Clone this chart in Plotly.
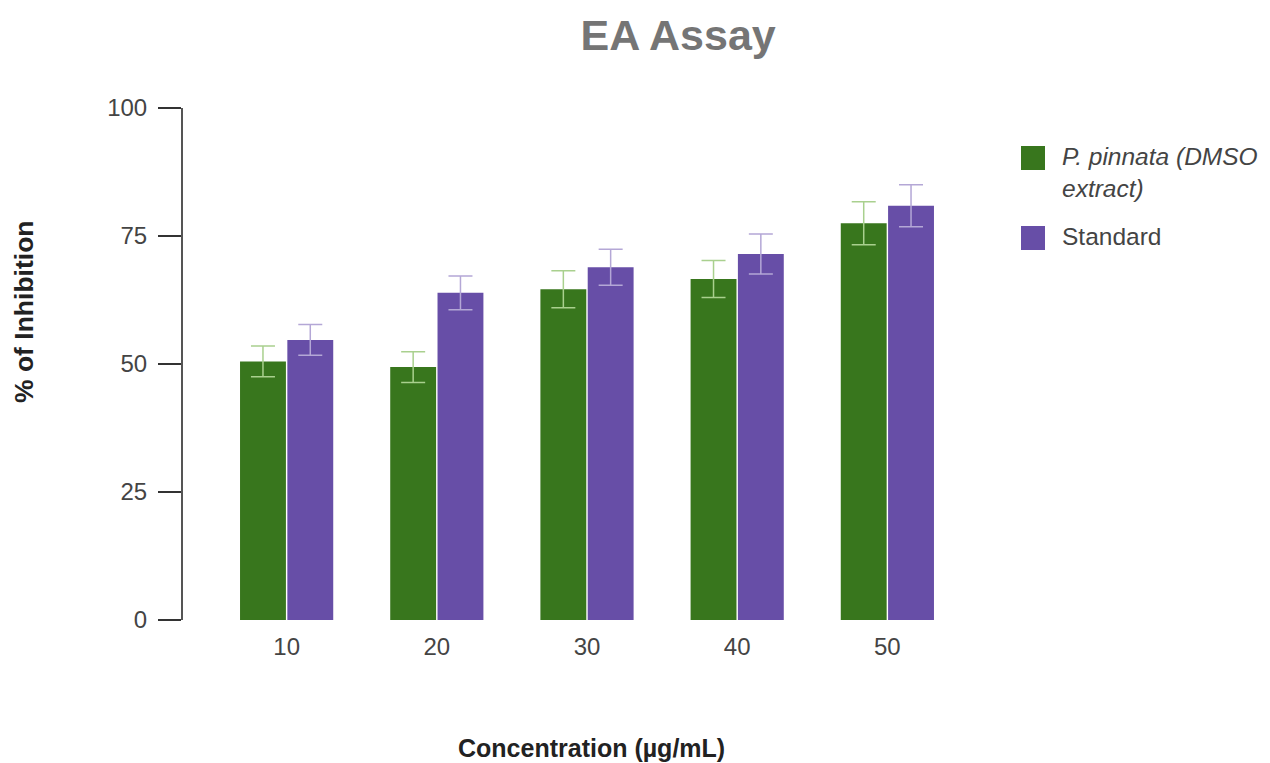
import plotly.graph_objects as go

concentrations = ["10", "20", "30", "40", "50"]
extract_vals = [50.5, 49.4, 64.6, 66.6, 77.5]
extract_err = [3.0, 3.0, 3.6, 3.6, 4.2]
standard_vals = [54.7, 63.9, 68.9, 71.5, 80.9]
standard_err = [3.0, 3.3, 3.5, 3.9, 4.1]
y_ticks = [0, 25, 50, 75, 100]
series_names = ["<i>P. pinnata (DMSO<br>extract)</i>", "Standard"]

green = "#38761d"
purple = "#674ea7"
colors = [green, purple]

fig = go.Figure()
fig.add_trace(go.Bar(
    x=concentrations, y=extract_vals, name=series_names[0],
    marker=dict(color=green, line=dict(width=0)),
    error_y=dict(type="data", array=extract_err, color="#a9d08e", thickness=1.5, width=12),
    showlegend=False,
))
fig.add_trace(go.Bar(
    x=concentrations, y=standard_vals, name=series_names[1],
    marker=dict(color=purple, line=dict(width=0)),
    error_y=dict(type="data", array=standard_err, color="#b4a7d6", thickness=1.5, width=12),
    showlegend=False,
))

font_family = "Liberation Sans, Arial, sans-serif"

# plot area in page pixels: x 183..991, y 108..620 (page has 8px body margin)
def px_x(px):
    return (px - 183) / 808.0

def px_y(py):
    return (620 - py) / 512.0

shapes = []
annotations = []
legend_rows = [158, 238]
for i, (name, col) in enumerate(zip(series_names, colors)):
    cy = legend_rows[i]
    shapes.append(dict(type="rect", xref="paper", yref="paper",
                       x0=px_x(1021), x1=px_x(1045), y0=px_y(cy + 12), y1=px_y(cy - 12),
                       fillcolor=col, line=dict(width=0)))
    annotations.append(dict(xref="paper", yref="paper", x=px_x(1060), y=px_y(cy - 17),
                            xanchor="left", yanchor="top", align="left", showarrow=False,
                            text=name, font=dict(size=24.5, color="#444444", family=font_family)))

annotations.append(dict(xref="paper", yref="paper", x=px_x(24), y=px_y(312), textangle=-90,
                        xanchor="center", yanchor="middle", showarrow=False,
                        text="<b>% of Inhibition</b>",
                        font=dict(size=26.5, color="#222222", family=font_family)))
annotations.append(dict(xref="paper", yref="paper", x=px_x(591), y=px_y(748),
                        xanchor="center", yanchor="middle", showarrow=False,
                        text="<b>Concentration (µg/mL)</b>",
                        font=dict(size=25, color="#222222", family=font_family)))

fig.update_layout(
    width=1262, height=755,
    margin=dict(l=175, r=279, t=100, b=143),
    paper_bgcolor="white", plot_bgcolor="white",
    barmode="group", bargap=0.37, bargroupgap=0.03,
    font=dict(family=font_family, size=24, color="#444444"),
    title=dict(text="<b>EA Assay</b>", x=0.531, xanchor="center", y=0.964, yanchor="middle",
               font=dict(size=43, color="#757575", family=font_family)),
    showlegend=False,
    shapes=shapes,
    annotations=annotations,
    xaxis=dict(range=[-0.69, 4.69], showline=False, ticks="", showgrid=False,
               ticklabelstandoff=10,
               tickfont=dict(size=24, color="#444444")),
    yaxis=dict(range=[0, 100], tickvals=y_ticks, showline=True, linecolor="#555555", linewidth=2,
               ticks="outside", ticklen=23, tickcolor="#333333", tickwidth=2, showgrid=False,
               zeroline=False, ticklabelstandoff=6,
               tickfont=dict(size=24, color="#444444")),
)

fig.write_html("out.html")
